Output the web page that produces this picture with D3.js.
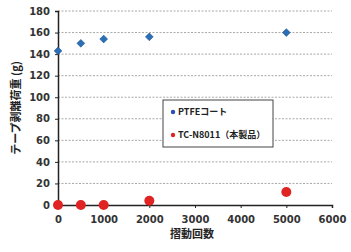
<!DOCTYPE html>
<html><head><meta charset="utf-8">
<script src="https://cdn.jsdelivr.net/npm/d3@7/dist/d3.min.js"></script>
<style>body{margin:0;background:#fff}text{font-family:"Noto Sans CJK JP","DejaVu Sans",sans-serif}</style>
</head><body>
<svg id="c" width="351" height="252"></svg>
<script>
const cycles = [0, 500, 1000, 2000, 5000];
const ptfe = [143, 150, 154, 156, 160];
const tcn = [0, 0, 0, 4, 12];
const xTicks = [0, 1000, 2000, 3000, 4000, 5000, 6000];
const yTicks = [0, 20, 40, 60, 80, 100, 120, 140, 160, 180];
const seriesNames = ["PTFEコート", "TC-N8011（本製品）"];
const xTitle = "摺動回数";
const yTitle = "テープ剥離荷重 (g)";

const svg = d3.select("#c");
const L = 58, R = 332, T = 11, B = 205;
const x = d3.scaleLinear().domain([0, 6000]).range([L, R]);
const y = d3.scaleLinear().domain([0, 180]).range([B, T]);

svg.append("g").selectAll("line").data(yTicks.filter(d => d > 0)).join("line")
  .attr("x1", L).attr("x2", R).attr("y1", d => y(d)).attr("y2", d => y(d))
  .attr("stroke", "#a8a8a8").attr("stroke-width", 1).attr("stroke-dasharray", "2,1.5");

const ya = svg.append("g").attr("transform", `translate(${L},0)`)
  .call(d3.axisLeft(y).tickValues(yTicks).tickFormat(d3.format("d")).tickSize(3).tickPadding(5));
const xa = svg.append("g").attr("transform", `translate(0,${B})`)
  .call(d3.axisBottom(x).tickValues(xTicks).tickFormat(d3.format("d")).tickSize(3).tickPadding(6));
[ya, xa].forEach(a => {
  a.select(".domain").attr("stroke", "#222").attr("stroke-width", 1.5);
  a.selectAll(".tick line").attr("stroke", "#222");
  a.selectAll("text").attr("font-size", 10).attr("font-weight", "bold").attr("fill", "#333")
    .style("font-family", "'DejaVu Sans',sans-serif");
});
xa.selectAll("text").attr("dy", "0.9em");

svg.append("g").selectAll("path").data(cycles).join("path")
  .attr("d", d3.symbol(d3.symbolSquare, 30))
  .attr("transform", (d, i) => `translate(${x(d)},${y(ptfe[i])}) rotate(45)`)
  .attr("fill", "#2a6fb8").attr("stroke", "#1d5590").attr("stroke-width", 0.6);

svg.append("g").selectAll("circle").data(cycles).join("circle")
  .attr("cx", d => x(d)).attr("cy", (d, i) => y(tcn[i])).attr("r", 5)
  .attr("fill", "#e02424");

svg.append("text").attr("x", (L + R) / 2 - 3).attr("y", 238).attr("text-anchor", "middle")
  .attr("font-size", 11).attr("font-weight", "bold").attr("fill", "#222").text(xTitle);
svg.append("text").attr("transform", `translate(20,${(T + B) / 2}) rotate(-90)`)
  .attr("text-anchor", "middle").attr("font-size", 11).attr("font-weight", "bold")
  .attr("fill", "#222").text(yTitle);

const lg = svg.append("g");
lg.append("rect").attr("x", 163).attr("y", 100).attr("width", 110).attr("height", 47)
  .attr("fill", "#fff").attr("stroke", "#444").attr("stroke-width", 1);
const colors = ["#2a4fb8", "#e02424"];
seriesNames.forEach((n, i) => {
  const yy = 112 + i * 23;
  lg.append("circle").attr("cx", 173).attr("cy", yy).attr("r", 2.2).attr("fill", colors[i]);
  lg.append("text").attr("x", 178).attr("y", yy).attr("dy", "0.35em").attr("font-size", 9)
    .attr("font-weight", "bold").attr("fill", "#222").text(n);
});
</script>
</body></html>
